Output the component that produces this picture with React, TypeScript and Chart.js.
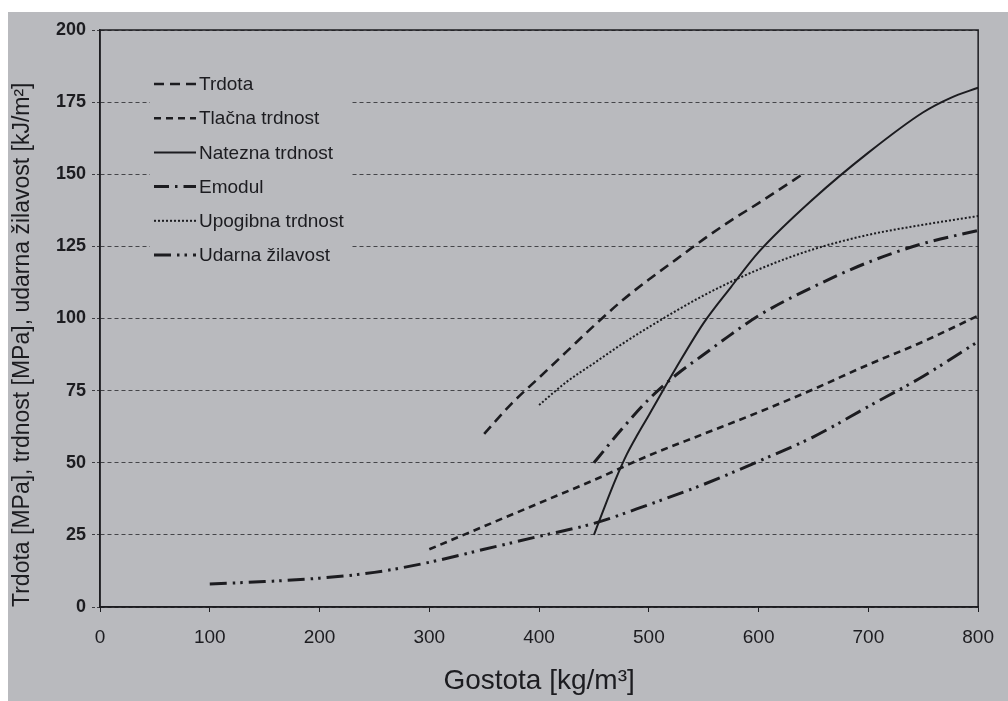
import React, { useEffect, useRef } from "react";
import { Chart, registerables } from "chart.js";

Chart.register(...registerables);

// Density (kg/m3) and property values per series
const trdotaX = [350, 375, 400, 425, 450, 475, 500, 525, 550, 575, 600, 640];
const trdotaY = [60, 70.5, 79.5, 88.5, 97.5, 106, 113.5, 120.5, 127.5, 134, 140, 150];

const tlacnaX = [300, 350, 400, 450, 500, 550, 600, 650, 700, 750, 800];
const tlacnaY = [20, 28, 36, 44, 52.5, 60, 67.5, 75.5, 84, 92, 101];

const nateznaX = [450, 460, 470, 480, 490, 500, 525, 550, 575, 600, 650, 700, 750, 775, 800];
const nateznaY = [25, 35, 44.5, 53, 60, 66.5, 83, 98.5, 111, 123, 141.5, 157.5, 171.5, 176.5, 180];

const emodulX = [450, 475, 500, 525, 550, 575, 600, 650, 700, 750, 800];
const emodulY = [50, 61.5, 72, 80.5, 87.5, 94.5, 101, 111, 119.5, 126, 130.5];

const upogibnaX = [400, 425, 450, 475, 500, 550, 600, 650, 700, 750, 800];
const upogibnaY = [70, 78, 84.5, 91, 97, 108, 117, 124, 129, 132.5, 135.5];

const udarnaX = [100, 150, 200, 250, 300, 350, 400, 450, 500, 550, 600, 650, 700, 750, 800];
const udarnaY = [8, 8.8, 10, 12, 15.5, 20, 24.5, 29, 35.5, 42.5, 50.5, 59, 69.5, 80, 92];

const seriesLabels = [
  "Trdota",
  "Tlačna trdnost",
  "Natezna trdnost",
  "Emodul",
  "Upogibna trdnost",
  "Udarna žilavost",
];

const xTitle = "Gostota [kg/m³]";
const yTitle = "Trdota [MPa], trdnost [MPa], udarna žilavost [kJ/m²]";

const PAPER = "#b9babe";
const INK = "#1c1c20";
const FONT = "'Liberation Sans', Arial, sans-serif";

const toPoints = (xs: number[], ys: number[]) => xs.map((x, i) => ({ x, y: ys[i] }));

const backgroundPlugin = {
  id: "paperBackground",
  beforeDraw(chart: any) {
    const { ctx, width, height } = chart;
    ctx.save();
    ctx.fillStyle = "#ffffff";
    ctx.fillRect(0, 0, width, height);
    ctx.fillStyle = PAPER;
    ctx.fillRect(8, 12, width - 8, height - 12);
    ctx.restore();
  },
};

const insetLegendPlugin = {
  id: "insetLegend",
  beforeDatasetsDraw(chart: any) {
    const { ctx, chartArea } = chart;
    const left = chartArea.left;
    const top = chartArea.top;
    ctx.save();
    ctx.fillStyle = PAPER;
    ctx.fillRect(left + 50, top + 34, 202, 210);
    ctx.font = `19px ${FONT}`;
    ctx.textBaseline = "middle";
    ctx.fillStyle = INK;
    chart.data.datasets.forEach((ds: any, i: number) => {
      const y = top + 54 + i * 34.2;
      ctx.strokeStyle = ds.borderColor;
      ctx.lineWidth = ds.borderWidth;
      ctx.setLineDash(ds.borderDash || []);
      ctx.beginPath();
      ctx.moveTo(left + 54, y);
      ctx.lineTo(left + 96, y);
      ctx.stroke();
      ctx.setLineDash([]);
      ctx.fillText(ds.label, left + 99, y + 1);
    });
    ctx.restore();
  },
};

const framePlugin = {
  id: "plotFrame",
  afterDatasetsDraw(chart: any) {
    const { ctx, chartArea } = chart;
    ctx.save();
    ctx.strokeStyle = INK;
    ctx.lineWidth = 1.5;
    ctx.setLineDash([]);
    ctx.strokeRect(chartArea.left, chartArea.top, chartArea.right - chartArea.left, chartArea.bottom - chartArea.top);
    ctx.restore();
  },
};

export default function App() {
  const canvasRef = useRef<HTMLCanvasElement | null>(null);

  useEffect(() => {
    if (!canvasRef.current) return;
    const line = (i: number, xs: number[], ys: number[], dash: number[], width: number) => ({
      label: seriesLabels[i],
      data: toPoints(xs, ys),
      borderColor: INK,
      borderWidth: width,
      borderDash: dash,
      pointRadius: 0,
      fill: false,
      cubicInterpolationMode: "monotone" as const,
    });

    const chart = new Chart(canvasRef.current, {
      type: "line",
      data: {
        datasets: [
          line(0, trdotaX, trdotaY, [10, 6], 2.6),
          line(1, tlacnaX, tlacnaY, [7, 5], 2.6),
          line(2, nateznaX, nateznaY, [], 2),
          line(3, emodulX, emodulY, [15, 6, 2.5, 6], 3),
          line(4, upogibnaX, upogibnaY, [2, 2], 2),
          line(5, udarnaX, udarnaY, [17, 6, 2.5, 5, 2.5, 6], 3),
        ],
      },
      options: {
        responsive: false,
        animation: false,
        layout: { padding: { left: 8, top: 30, right: 29, bottom: 0 } },
        plugins: {
          legend: { display: false },
          tooltip: { enabled: false },
        },
        scales: {
          x: {
            type: "linear",
            min: 0,
            max: 800,
            afterFit: (scale: any) => {
              scale.height = 94;
            },
            ticks: {
              stepSize: 100,
              padding: 14,
              color: INK,
              font: { family: FONT, size: 19 },
            },
            grid: {
              drawOnChartArea: false,
              drawTicks: true,
              tickLength: 5,
              tickColor: INK,
              tickWidth: 1,
            },
            border: { display: true, color: INK, width: 1.5 },
            title: {
              display: true,
              text: xTitle,
              color: INK,
              font: { family: FONT, size: 28 },
              padding: { top: 4, bottom: 3 },
            },
          },
          y: {
            type: "linear",
            min: 0,
            max: 200,
            afterFit: (scale: any) => {
              scale.width = 92;
            },
            ticks: {
              stepSize: 25,
              padding: 6,
              color: INK,
              font: { family: FONT, size: 18, weight: "bold" },
            },
            grid: {
              color: "rgba(30,30,34,0.75)",
              lineWidth: 1,
              drawTicks: true,
              tickLength: 8,
              tickColor: "rgba(30,30,34,0.8)",
              tickBorderDash: [3, 2],
            },
            border: { display: true, color: INK, width: 1.5, dash: [4, 3] },
            title: {
              display: true,
              text: yTitle,
              color: INK,
              align: "start",
              font: { family: FONT, size: 23 },
              padding: { top: 1, bottom: 0 },
            },
          },
        },
      },
      plugins: [backgroundPlugin, insetLegendPlugin, framePlugin],
    });

    return () => chart.destroy();
  }, []);

  return (
    <div style={{ position: "fixed", left: 0, top: 0, width: 1008, height: 701 }}>
      <canvas ref={canvasRef} width={1008} height={701} />
    </div>
  );
}
